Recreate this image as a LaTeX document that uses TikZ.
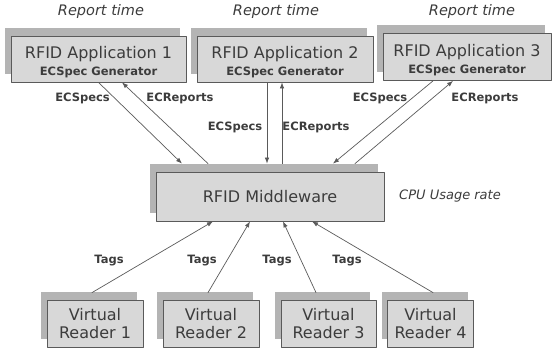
\documentclass[tikz,border=0pt]{standalone}
\usepackage{fontspec}
\setmainfont{DejaVu Sans}
\usetikzlibrary{shadows,arrows.meta}
\definecolor{boxfill}{HTML}{D8D8D8}
\definecolor{boxshade}{HTML}{B4B4B4}
\definecolor{boxline}{HTML}{5A5A5A}
\definecolor{txtgray}{HTML}{3C3C3C}
\tikzset{
  box/.style={draw=boxline,line width=0.8pt,fill=boxfill,text=txtgray,inner sep=0pt,align=center,
    drop shadow={shadow xshift=-6pt,shadow yshift=8pt,fill=boxshade,opacity=1}},
  bigtxt/.style={font=\fontsize{16}{18}\selectfont},
  lbl/.style={text=txtgray,font=\fontsize{11.5}{13}\selectfont\bfseries},
  note/.style={text=txtgray,font=\fontsize{14.5}{16}\selectfont\itshape},
  link/.style={draw=boxline,line width=0.7pt,-{Latex[length=6pt,width=4.5pt]}}
}
\newcommand{\apptext}[1]{{\fontsize{16}{18}\selectfont\rule{0pt}{18pt}RFID Application #1}\\[5pt]%
  {\fontsize{11.5}{13}\selectfont\bfseries ECSpec Generator}}
\begin{document}
\begin{tikzpicture}[x=1pt,y=-1pt,line cap=round,line join=round]
  \useasboundingbox (0,0) rectangle (556,352);
  % applications
  \node[box,minimum width=175pt,minimum height=46pt] (app1) at (98.5,59) {\apptext{1}};
  \node[box,minimum width=176pt,minimum height=46pt] (app2) at (285,59) {\apptext{2}};
  \node[box,minimum width=168pt,minimum height=47pt] (app3) at (467,57) {\apptext{3}};
  \node[note] (timeA) at (101,12) {Report time};
  \node[note] (timeB) at (276,12) {Report time};
  \node[note] (timeC) at (472,12) {Report time};
  % middleware
  \node[box,bigtxt,minimum width=228pt,minimum height=49pt] (mw) at (270,196.5) {RFID Middleware};
  \node[note,font=\fontsize{13}{15}\selectfont\itshape] (cpu) at (450,196) {CPU Usage rate};
  % readers
  \node[box,bigtxt,minimum width=96pt,minimum height=47pt] (rd1) at (95,323.5) {Virtual\\Reader 1};
  \node[box,bigtxt,minimum width=96pt,minimum height=47pt] (rd2) at (211,323.5) {Virtual\\Reader 2};
  \node[box,bigtxt,minimum width=95pt,minimum height=47pt] (rd3) at (328.5,323.5) {Virtual\\Reader 3};
  \node[box,bigtxt,minimum width=86pt,minimum height=47pt] (rd4) at (430.5,323.5) {Virtual\\Reader 4};
  % specs and reports
  \draw[link] (app1.south) -- ([xshift=-88pt,yshift=8pt]mw.north);
  \draw[link] ([xshift=-62pt,yshift=8pt]mw.north) -- ([xshift=23.5pt]app1.south);
  \draw[link] ([xshift=-18pt]app2.south) -- ([xshift=-3pt,yshift=8pt]mw.north);
  \draw[link] ([xshift=12pt,yshift=8pt]mw.north) -- ([xshift=-3pt]app2.south);
  \draw[link] ([xshift=-34pt]app3.south) -- ([xshift=63pt,yshift=8pt]mw.north);
  \draw[link] ([xshift=85pt,yshift=8pt]mw.north) -- ([xshift=-14pt]app3.south);
  \node[lbl] (specA) at (82.5,98) {ECSpecs};
  \node[lbl] (repA) at (180,98) {ECReports};
  \node[lbl] (specB) at (235,127) {ECSpecs};
  \node[lbl] (repB) at (316,127) {ECReports};
  \node[lbl] (specC) at (380,98) {ECSpecs};
  \node[lbl] (repC) at (485,98) {ECReports};
  % tags
  \draw[link] ([xshift=-3pt,yshift=7pt]rd1.north) -- ([xshift=-57pt]mw.south);
  \draw[link] ([xshift=-3pt,yshift=7pt]rd2.north) -- ([xshift=-20pt]mw.south);
  \draw[link] ([xshift=-12.5pt,yshift=7pt]rd3.north) -- ([xshift=13pt]mw.south);
  \draw[link] ([xshift=2.5pt,yshift=7pt]rd4.north) -- ([xshift=42pt]mw.south);
  \node[lbl] (tagA) at (109,261) {Tags};
  \node[lbl] (tagB) at (202,261) {Tags};
  \node[lbl] (tagC) at (277,261) {Tags};
  \node[lbl] (tagD) at (347,261) {Tags};
\end{tikzpicture}
\end{document}
